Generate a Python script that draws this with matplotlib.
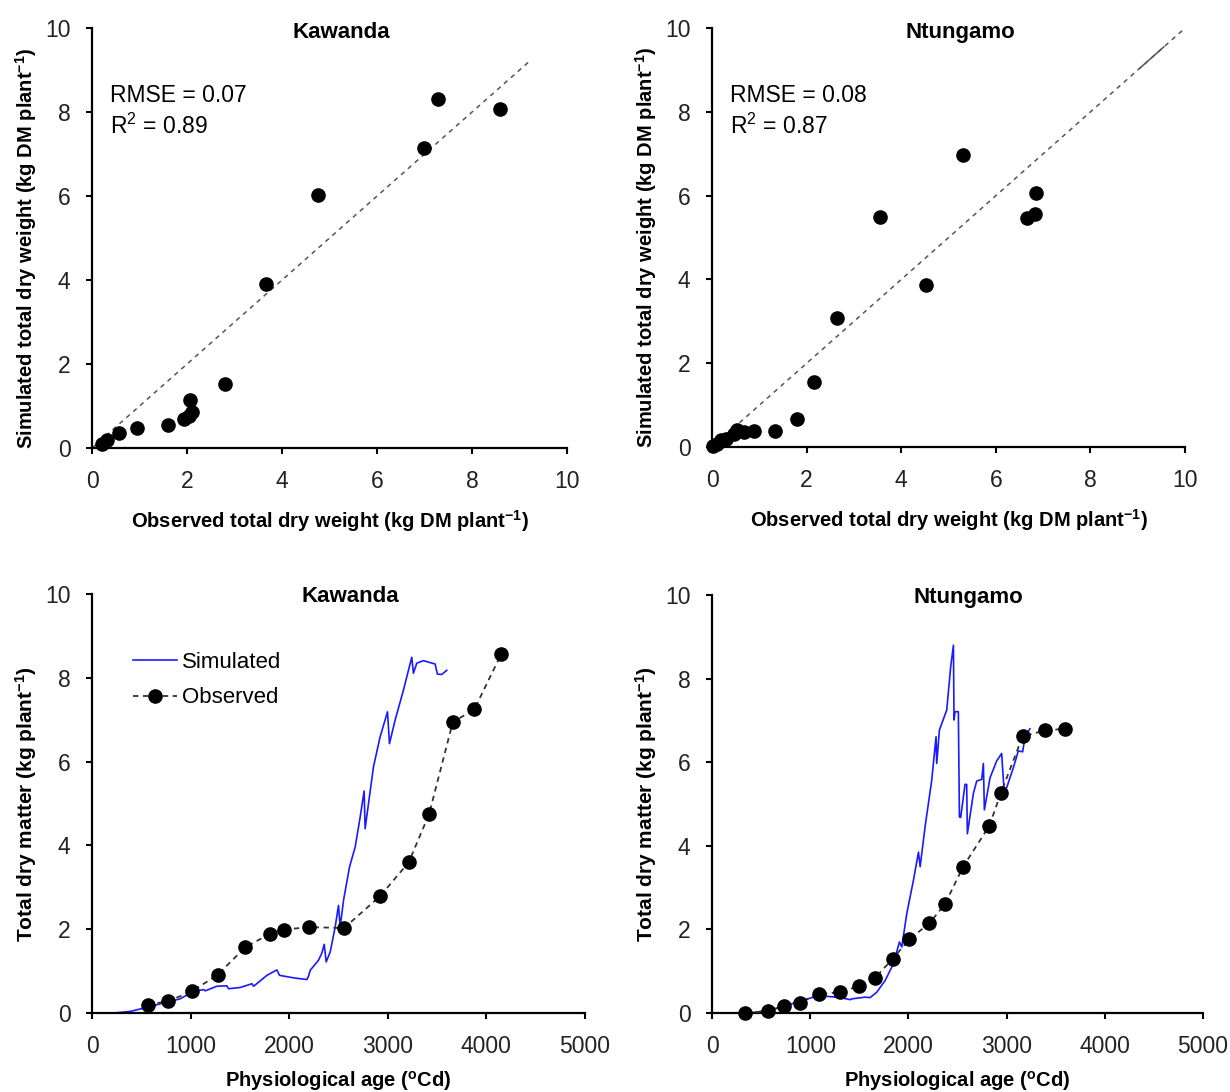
import matplotlib
matplotlib.use("Agg")
import matplotlib.pyplot as plt  # noqa: E402

# ── Data ─────────────────────────────────────────────────────────────────────

# Kawanda, observed vs simulated (kg DM plant-1)
kaw_obs = [0.21, 0.32, 0.56, 0.95, 1.59, 1.93, 2.04, 2.11, 2.07, 2.81,
           3.66, 4.76, 6.98, 7.28, 8.58]
kaw_sim = [0.10, 0.20, 0.37, 0.48, 0.55, 0.68, 0.76, 0.86, 1.14, 1.53,
           3.90, 6.03, 7.14, 8.31, 8.08]

# Ntungamo, observed vs simulated
ntu_obs = [0.02, 0.11, 0.19, 0.30, 0.46, 0.53, 0.67, 0.88, 1.34, 1.80,
           2.16, 2.65, 3.54, 4.53, 5.30, 6.65, 6.83, 6.85]
ntu_sim = [0.02, 0.08, 0.17, 0.20, 0.32, 0.40, 0.36, 0.38, 0.38, 0.66,
           1.56, 3.08, 5.48, 3.86, 6.96, 5.47, 5.57, 6.07]

stats_kaw = ["RMSE = 0.07", "R$^2$ = 0.89"]
stats_ntu = ["RMSE = 0.08", "R$^2$ = 0.87"]

# Kawanda time course (physiological age, degC d)
kaw_t_obs = [564, 770, 1014, 1274, 1554, 1804, 1943, 2196, 2557, 2922,
             3213, 3419, 3659, 3878, 4149]
kaw_w_obs = [0.20, 0.28, 0.52, 0.91, 1.57, 1.89, 1.99, 2.05, 2.03, 2.79,
             3.60, 4.75, 6.94, 7.25, 8.56]
kaw_t_sim = [0, 220, 389, 564, 693, 895, 1030, 1132, 1149, 1267, 1368, 1385,
             1503, 1622, 1639, 1774, 1875, 1902, 2044, 2179, 2196, 2213,
             2297, 2331, 2355, 2375, 2416, 2466, 2500, 2517, 2551, 2612,
             2669, 2720, 2760, 2770, 2855, 2922, 2997, 3017, 3074, 3159,
             3243, 3260, 3294, 3361, 3480, 3503, 3547, 3598]
kaw_w_sim = [0, 0, 0.04, 0.14, 0.22, 0.34, 0.52, 0.56, 0.53, 0.64, 0.65, 0.58,
             0.61, 0.70, 0.64, 0.90, 1.03, 0.90, 0.84, 0.80, 0.88, 1.02,
             1.26, 1.43, 1.64, 1.22, 1.46, 2.05, 2.57, 2.05, 2.69, 3.49,
             3.96, 4.68, 5.30, 4.40, 5.88, 6.59, 7.19, 6.43, 6.99, 7.71,
             8.49, 8.11, 8.35, 8.41, 8.33, 8.09, 8.08, 8.18]

# Ntungamo time course
ntu_t_obs = [339, 569, 729, 892, 1088, 1298, 1495, 1658, 1841, 2007, 2214,
             2373, 2556, 2824, 2942, 3163, 3390, 3590]
ntu_w_obs = [0.0, 0.05, 0.16, 0.25, 0.45, 0.50, 0.64, 0.84, 1.30, 1.76, 2.15,
             2.61, 3.50, 4.48, 5.27, 6.62, 6.76, 6.80]
ntu_t_sim = [0, 322, 458, 627, 763, 898, 1034, 1169, 1305, 1407, 1424, 1559,
             1610, 1678, 1763, 1847, 1908, 1932, 1983, 2051, 2102, 2119,
             2169, 2237, 2281, 2288, 2315, 2390, 2430, 2458, 2464, 2475,
             2508, 2519, 2532, 2576, 2593, 2600, 2661, 2695, 2746, 2763,
             2773, 2831, 2898, 2949, 2973, 3000, 3068, 3119, 3163, 3186,
             3237]
ntu_w_sim = [0, 0, 0.02, 0.10, 0.18, 0.29, 0.38, 0.40, 0.37, 0.32, 0.34, 0.38,
             0.37, 0.50, 0.78, 1.18, 1.70, 1.58, 2.38, 3.18, 3.85, 3.50,
             4.45, 5.57, 6.61, 5.97, 6.77, 7.25, 8.28, 8.80, 7.01, 7.21,
             7.21, 4.69, 4.68, 5.47, 5.47, 4.29, 5.25, 5.55, 5.59, 5.97,
             4.86, 5.63, 6.03, 6.21, 5.35, 5.39, 5.87, 6.27, 6.25, 6.60,
             6.80]

# ── Style ────────────────────────────────────────────────────────────────────

plt.rcParams["font.family"] = ["Liberation Sans", "DejaVu Sans"]
plt.rcParams["mathtext.fontset"] = "custom"
plt.rcParams["mathtext.rm"] = "Liberation Sans"
plt.rcParams["mathtext.bf"] = "Liberation Sans:bold"

TICK_SIZE = 16.5
LABEL_SIZE = 14.5
TITLE_SIZE = 16
BLUE = "#1a1aff"


def style_axes(ax):
    for side in ("top", "right"):
        ax.spines[side].set_visible(False)
    for side in ("left", "bottom"):
        ax.spines[side].set_linewidth(1.6)
        ax.spines[side].set_color("black")
    ax.tick_params(direction="out", length=4.5, width=1.5, pad=11,
                   labelsize=TICK_SIZE, labelcolor="#222222")


fig = plt.figure(figsize=(12.3, 10.92), dpi=100)

# ── Scatter panels ───────────────────────────────────────────────────────────

scatter_panels = [
    ([0.0748, 0.5897, 0.3862, 0.3846], "Kawanda", kaw_obs, kaw_sim, stats_kaw, 9.2),
    ([0.5789, 0.5906, 0.3846, 0.3837], "Ntungamo", ntu_obs, ntu_sim, stats_ntu, 10.0),
]
for rect, name, obs, sim, stats, line_end in scatter_panels:
    ax = fig.add_axes(rect)
    ax.plot([0, line_end], [0, line_end], color="#555555", lw=1.1,
            ls=(0, (3, 3)), zorder=1)
    if name == "Ntungamo":
        ax.plot([9.05, 9.55], [9.05, 9.55], color="#555555", lw=1.1, zorder=1)
    ax.plot(obs, sim, "o", color="black", ms=9.5, zorder=3, clip_on=False)
    ax.set_xlim(0, 10)
    ax.set_ylim(0, 10)
    ax.set_xticks(range(0, 11, 2))
    ax.set_yticks(range(0, 11, 2))
    style_axes(ax)
    ax.text(0.525, 0.99, name, transform=ax.transAxes, ha="center",
            va="center", fontsize=TITLE_SIZE, fontweight="bold")
    ax.text(0.38, 8.4, stats[0], fontsize=TICK_SIZE, va="center")
    ax.text(0.38, 7.65, stats[1], fontsize=TICK_SIZE, va="center")
    ax.set_xlabel(r"Observed total dry weight (kg DM plant$\mathbf{^{-1}}$)",
                  fontsize=LABEL_SIZE, fontweight="bold", labelpad=11)
    ax.set_ylabel(r"Simulated total dry weight (kg DM plant$\mathbf{^{-1}}$)",
                  fontsize=LABEL_SIZE, fontweight="bold", labelpad=4)
    ax.yaxis.label.set_y(0.476)

# ── Time-course panels ───────────────────────────────────────────────────────

course_panels = [
    ([0.0748, 0.0723, 0.4008, 0.3837], "Kawanda",
     kaw_t_sim, kaw_w_sim, kaw_t_obs, kaw_w_obs, True),
    ([0.5789, 0.0723, 0.3992, 0.3828], "Ntungamo",
     ntu_t_sim, ntu_w_sim, ntu_t_obs, ntu_w_obs, False),
]
for rect, name, ts, ws, to, wo, show_legend in course_panels:
    ax = fig.add_axes(rect)
    ax.plot(ts, ws, color=BLUE, lw=1.2, label="Simulated", zorder=2)
    ax.plot(to, wo, color="#333333", lw=1.3, ls=(0, (3, 2.5)), marker="o",
            mfc="black", mec="black", ms=9.5, label="Observed", zorder=3,
            clip_on=False)
    ax.set_xlim(0, 5000)
    ax.set_ylim(0, 10)
    ax.set_xticks(range(0, 5001, 1000))
    ax.set_yticks(range(0, 11, 2))
    style_axes(ax)
    ax.text(0.523, 0.993, name, transform=ax.transAxes, ha="center",
            va="center", fontsize=TITLE_SIZE, fontweight="bold")
    ax.set_xlabel(r"Physiological age ($\mathbf{^{o}}$Cd)",
                  fontsize=LABEL_SIZE, fontweight="bold", labelpad=8)
    ax.set_ylabel(r"Total dry matter (kg plant$\mathbf{^{-1}}$)",
                  fontsize=15, fontweight="bold", labelpad=4)
    if show_legend:
        ax.legend(loc="upper left", bbox_to_anchor=(0.083, 0.862),
                  frameon=False, fontsize=16, handlelength=2.0,
                  handletextpad=0.2, borderpad=0, borderaxespad=0,
                  labelspacing=0.65)

fig.savefig("out.png", dpi=100)
